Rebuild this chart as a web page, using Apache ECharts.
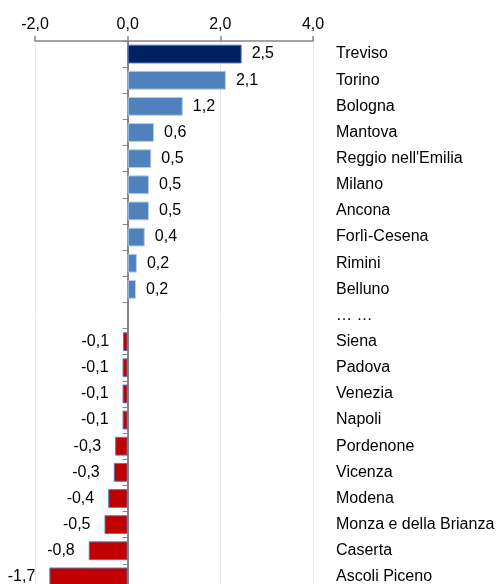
<!DOCTYPE html>
<html><head><meta charset="utf-8">
<script src="https://cdn.jsdelivr.net/npm/echarts@6/dist/echarts.min.js"></script>
<style>html,body{margin:0;padding:0;background:#fff;overflow:hidden}#c{width:503px;height:600px}</style>
</head><body><div id="c"></div>
<script>
const categories = ["Treviso","Torino","Bologna","Mantova","Reggio nell'Emilia","Milano","Ancona","Forlì-Cesena","Rimini","Belluno","… …","Siena","Padova","Venezia","Napoli","Pordenone","Vicenza","Modena","Monza e della Brianza","Caserta","Ascoli Piceno"];
const values = [2.46,2.12,1.19,0.57,0.51,0.46,0.46,0.37,0.2,0.18,null,-0.1,-0.11,-0.11,-0.11,-0.27,-0.3,-0.42,-0.5,-0.84,-1.69];
const xTicks = {min:-2, max:4, interval:2};

const fmt = v => v.toFixed(1).replace('.', ',');
const FONT = 'Liberation Sans';
const data = values.map((v,i) => {
  if (v === null) return {value: null};
  let color, border;
  if (i === 0) { color = '#002060'; border = '#4F81BD'; }
  else if (v > 0) { color = '#4F81BD'; border = '#B9CDE5'; }
  else { color = '#C00000'; border = '#4F81BD'; }
  return {value: v, itemStyle: {color: color, borderColor: border, borderWidth: 1},
    label: {position: v > 0 ? 'right' : 'left', distance: v > 0 ? 10 : 14}};
});
const chart = echarts.init(document.getElementById('c'), null, {renderer:'canvas'});
chart.setOption({
  animation: false,
  grid: {left: 35, right: 190, top: 41, height: 549, containLabel: false},
  xAxis: {type:'value', position:'top', min:xTicks.min, max:xTicks.max, interval:xTicks.interval,
    axisLine:{show:true, lineStyle:{color:'#868686', width:1.5}},
    axisTick:{show:true, inside:false, length:5, lineStyle:{color:'#868686', width:1.5}},
    axisLabel:{formatter: v => fmt(v), color:'#000', fontFamily:FONT, fontSize:16, margin:8},
    splitLine:{show:true, lineStyle:{color:'#ECE9E2', width:1}}},
  yAxis: [{type:'category', data:categories, inverse:true,
    axisLine:{show:true, onZero:true, lineStyle:{color:'#868686', width:2}},
    axisTick:{show:true, length:5, lineStyle:{color:'#868686', width:1}},
    axisLabel:{show:false}, splitLine:{show:false}},
    {type:'category', data:categories, inverse:true, position:'right',
    axisLine:{show:false}, axisTick:{show:false},
    axisLabel:{show:true, align:'left', margin:23, color:'#000', fontFamily:FONT, fontSize:16}}],
  series: [{type:'bar', data:data, barCategoryGap:'28%', yAxisIndex:0,
    label:{show:true, color:'#000', fontFamily:FONT, fontSize:16,
      formatter: p => p.value == null ? '' : fmt(p.value)}}]
});
</script></body></html>
